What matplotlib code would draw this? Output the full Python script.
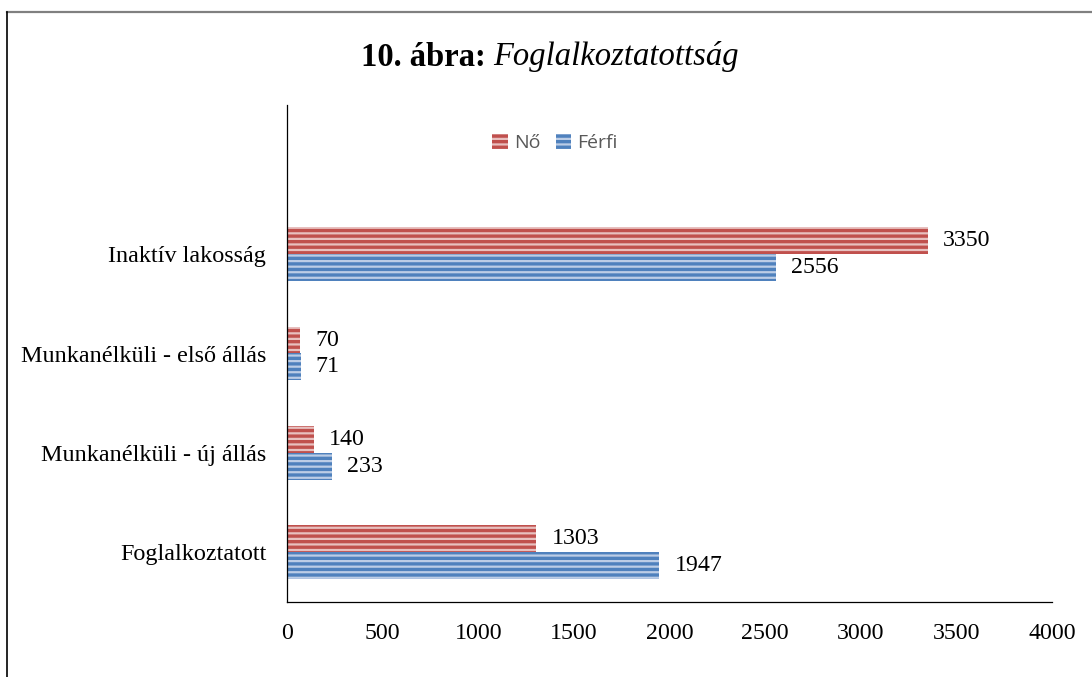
import matplotlib
matplotlib.use("Agg")
import matplotlib.pyplot as plt
from matplotlib.lines import Line2D
import numpy as np

categories = ["Foglalkoztatott", "Munkanélküli - új állás", "Munkanélküli - első állás", "Inaktív lakosság"]
no_values = [1303, 140, 70, 3350]
ferfi_values = [1947, 233, 71, 2556]
xticks = [0, 500, 1000, 1500, 2000, 2500, 3000, 3500, 4000]

plt.rcParams['hatch.linewidth'] = 2.4
serif = ['Liberation Serif', 'DejaVu Serif']

fig = plt.figure(figsize=(10.92, 6.77), dpi=100)
ax = fig.add_axes([287/1092, 1-602/677, (1052-287)/1092, (602-105)/677])

y = np.arange(len(categories))
h = 0.27
red_face, red_hatch = '#e8c0bf', '#c0504d'
blue_face, blue_hatch = '#bccde6', '#4f81bd'

b1 = ax.barh(y + h/2, no_values, height=h, color=red_face, edgecolor=red_hatch,
             hatch='---', linewidth=0, label='Nő')
b2 = ax.barh(y - h/2, ferfi_values, height=h, color=blue_face, edgecolor=blue_hatch,
             hatch='---', linewidth=0, label='Férfi')

for bars, vals in ((b1, no_values), (b2, ferfi_values)):
    for rect, v in zip(bars, vals):
        ax.annotate(str(v), (rect.get_width(), rect.get_y() + rect.get_height()/2),
                    xytext=(11, 0), textcoords='offset points', va='center', ha='left',
                    fontsize=17.2, family=serif, color='black')

ax.set_xlim(0, 4000)
ax.set_ylim(-0.5, 4.5)
ax.set_xticks(xticks)
ax.set_xticklabels([str(t) for t in xticks], fontsize=17.2, family=serif)
ax.set_yticks(y)
ax.set_yticklabels(categories, fontsize=17.4, family=serif)
ax.tick_params(axis='y', length=0, pad=15)
ax.tick_params(axis='x', length=0, pad=15)
for s in ('top', 'right'):
    ax.spines[s].set_visible(False)
ax.spines['left'].set_color('black')
ax.spines['bottom'].set_color('black')
ax.spines['left'].set_linewidth(0.9)
ax.spines['bottom'].set_linewidth(0.9)

leg = ax.legend(handles=[b1, b2], loc='center', bbox_to_anchor=(555/1092, 1-143/677),
                bbox_transform=fig.transFigure, ncol=2, frameon=False,
                prop={'family': 'Open Sans', 'size': 14}, handlelength=0.8, handleheight=0.8,
                handletextpad=0.3, columnspacing=0.8, labelcolor='#595959')

t1 = fig.text(0, 0, "10. ábra: ", fontsize=23.5, fontweight='bold', family=serif)
t2 = fig.text(0, 0, "Foglalkoztatottság", fontsize=23.5, fontstyle='italic', family=serif)
fig.canvas.draw()
r = fig.canvas.get_renderer()
w1 = t1.get_window_extent(r).width
w2 = t2.get_window_extent(r).width
x0 = (1100 - (w1 + w2)) / 2 / 1092
ycen = 1 - 57/677
t1.set_position((x0, ycen)); t1.set_va('center')
t2.set_position((x0 + w1/1092, ycen)); t2.set_va('center')

fig.add_artist(Line2D([7/1092, 1], [1-12/677, 1-12/677], transform=fig.transFigure,
                      color='#808080', linewidth=1.6))
fig.add_artist(Line2D([7/1092, 7/1092], [0, 1-12/677], transform=fig.transFigure,
                      color='black', linewidth=1.2))

fig.savefig('out.png', dpi=100)
